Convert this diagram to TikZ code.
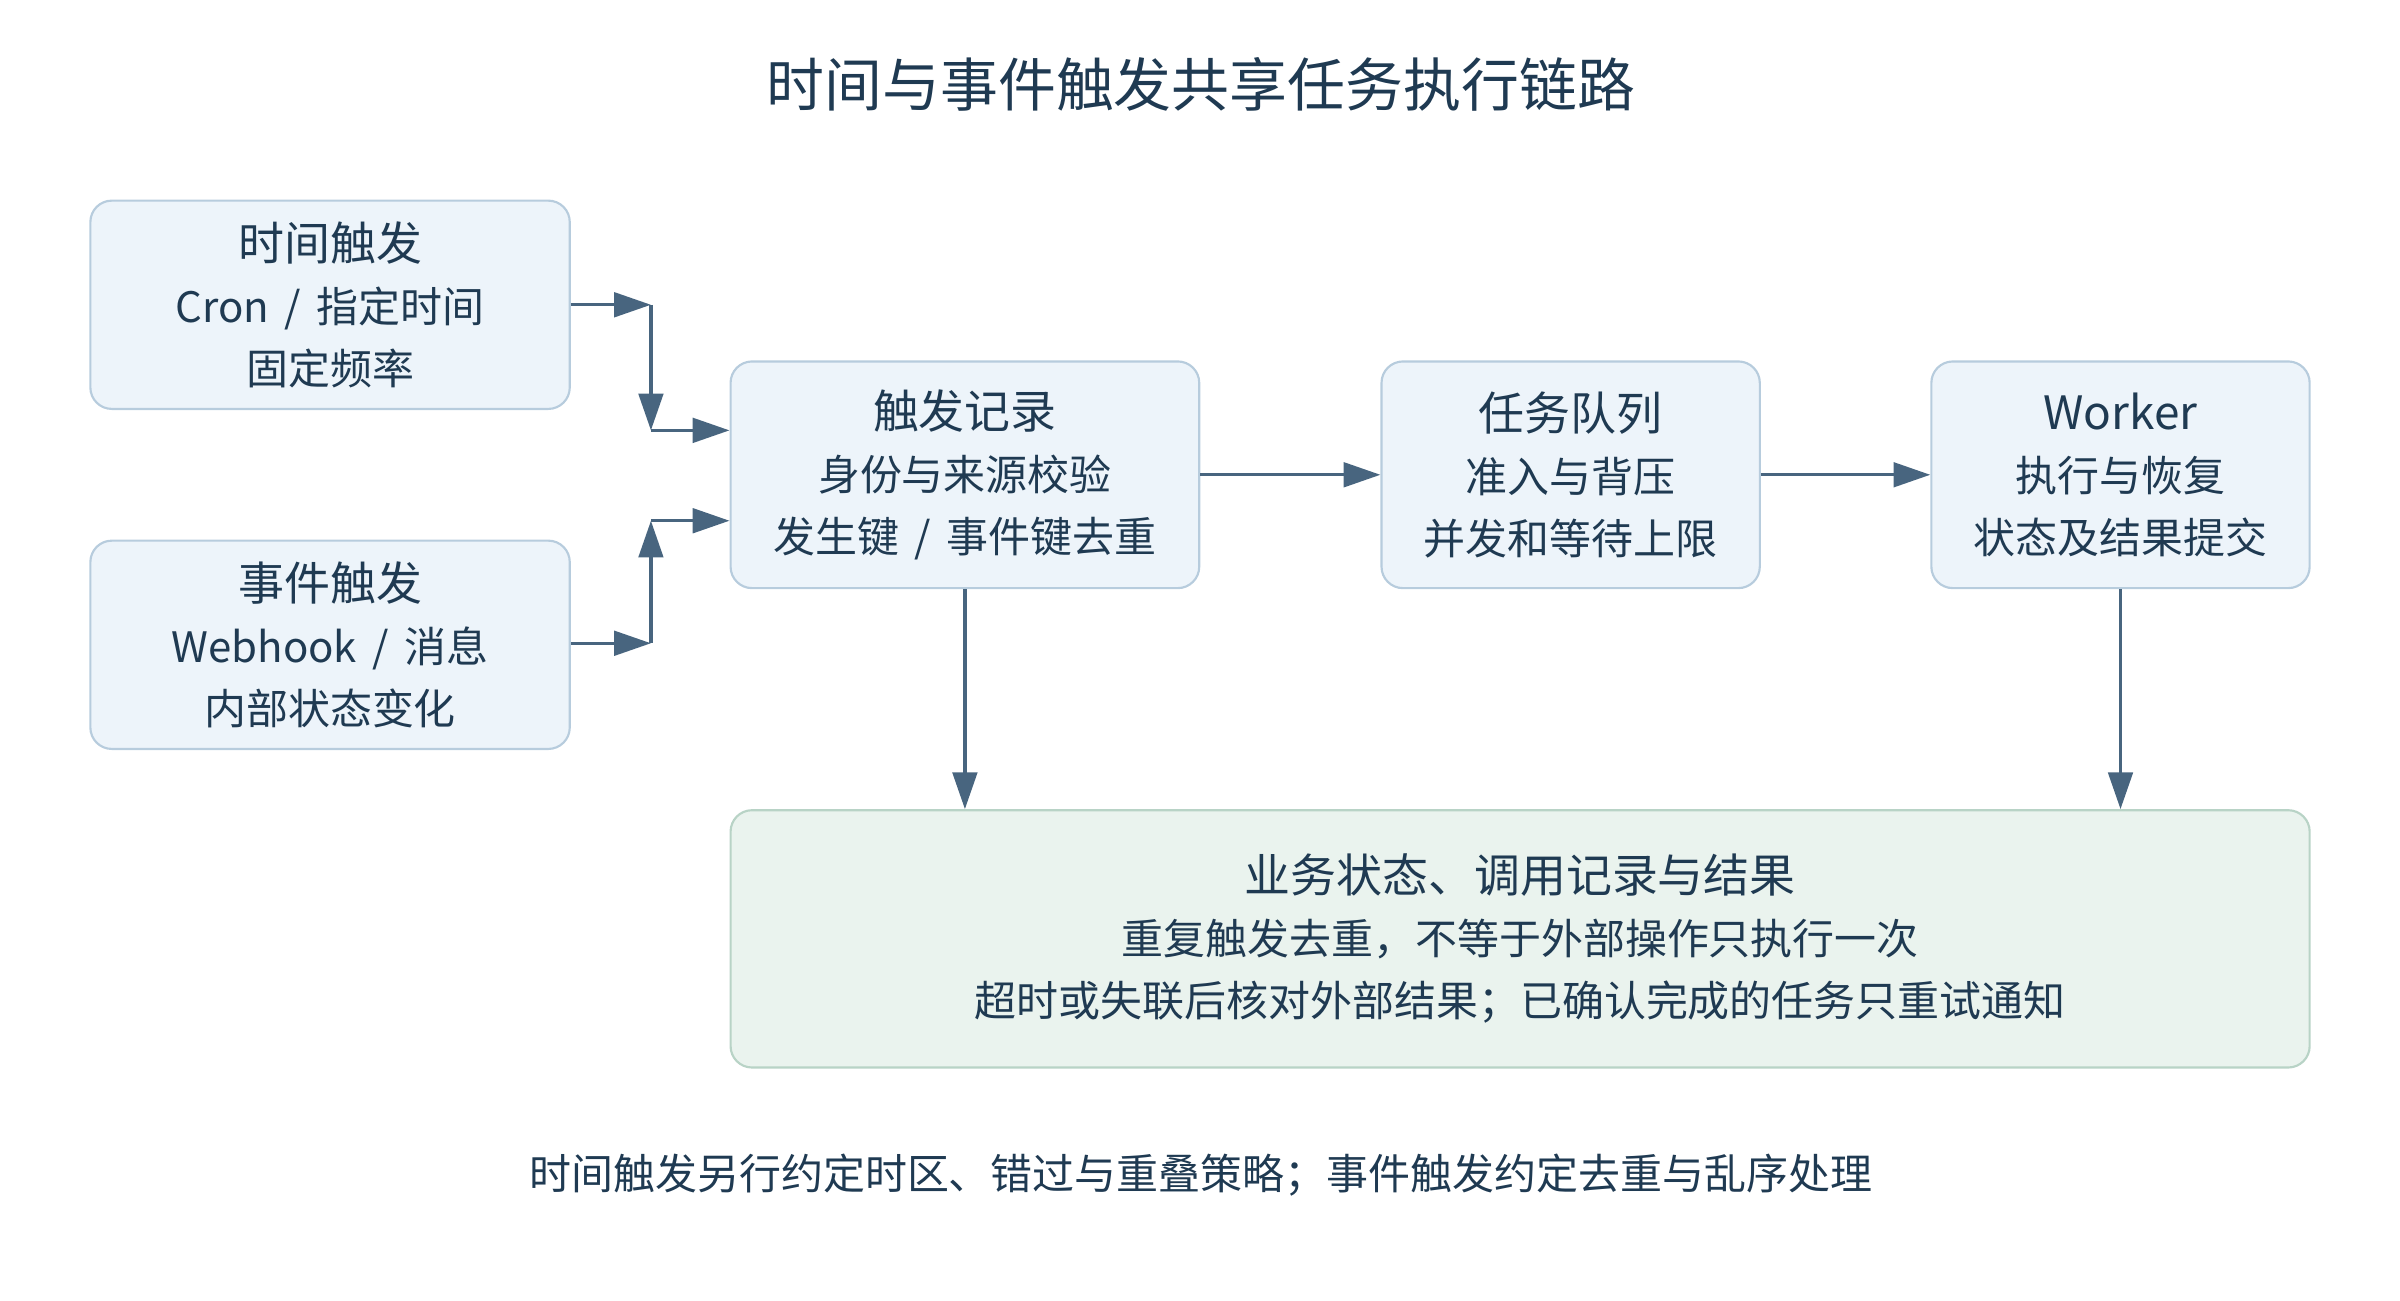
\documentclass[tikz,border=0pt]{standalone}
\usepackage{fontspec}
\setmainfont{Noto Sans CJK SC}
\usetikzlibrary{arrows.meta}
\definecolor{ink}{HTML}{1F3A52}
\definecolor{arrowc}{HTML}{48657F}
\definecolor{boxfill}{HTML}{EDF4FA}
\definecolor{boxline}{HTML}{B7CCDD}
\definecolor{resfill}{HTML}{EAF3EE}
\definecolor{resline}{HTML}{B8D3C6}
\newcommand{\hd}[1]{{\fontsize{15}{20.25}\selectfont #1}}
\newcommand{\dv}{\hspace{0.37em}/\hspace{0.37em}}
\begin{document}
\begin{tikzpicture}[x=0.5pt,y=-0.5pt,
  box/.style={draw=boxline,fill=boxfill,rounded corners=7pt,line width=0.7pt,align=center,text=ink,inner sep=0pt,font=\fontsize{13.7}{20.25}\selectfont},
  resbox/.style={box,draw=resline,fill=resfill},
  link/.style={draw=arrowc,line width=1.1pt,-{Triangle[length=12pt,width=8pt]}}]
\useasboundingbox (0,0) rectangle (1567,849);
\node[text=ink,font=\fontsize{18.9}{24}\selectfont] (title) at (784,55) {时间与事件触发共享任务执行链路};
\node[box,minimum width=156.5pt,minimum height=68pt] (tim) at (215.5,199) {\hd{时间触发}\\Cron\dv 指定时间\\固定频率};
\node[box,minimum width=156.5pt,minimum height=68pt] (evt) at (215.5,421) {\hd{事件触发}\\Webhook\dv 消息\\内部状态变化};
\node[box,minimum width=153pt,minimum height=74pt] (rec) at (630,310) {\hd{触发记录}\\身份与来源校验\\发生键\dv 事件键去重};
\node[box,minimum width=123.5pt,minimum height=74pt] (que) at (1025.5,310) {\hd{任务队列}\\准入与背压\\并发和等待上限};
\node[box,minimum width=123.5pt,minimum height=74pt] (wkr) at (1384.5,310) {\hd{Worker}\\执行与恢复\\状态及结果提交};
\node[resbox,minimum width=515.5pt,minimum height=84pt] (res) at (992.5,613) {\hd{业务状态、调用记录与结果}\\重复触发去重，不等于外部操作只执行一次\\超时或失联后核对外部结果；已确认完成的任务只重试通知};
\node[text=ink,font=\fontsize{13.7}{20.25}\selectfont] (note) at (784,767) {时间触发另行约定时区、错过与重叠策略；事件触发约定去重与乱序处理};
\coordinate (t1) at (425,199);
\coordinate (t2) at (425,281);
\coordinate (e1) at (425,420);
\coordinate (e2) at (425,340);
\draw[link] (tim.east |- t1) -- (t1);
\draw[link] (t1) -- (t2);
\draw[link] (t2) -- (rec.west |- t2);
\draw[link] (evt.east |- e1) -- (e1);
\draw[link] (e1) -- (e2);
\draw[link] (e2) -- (rec.west |- e2);
\draw[link] (rec) -- (que);
\draw[link] (que) -- (wkr);
\draw[link] (rec.south) -- (rec.south |- res.north);
\draw[link] (wkr.south) -- (wkr.south |- res.north);
\end{tikzpicture}
\end{document}
